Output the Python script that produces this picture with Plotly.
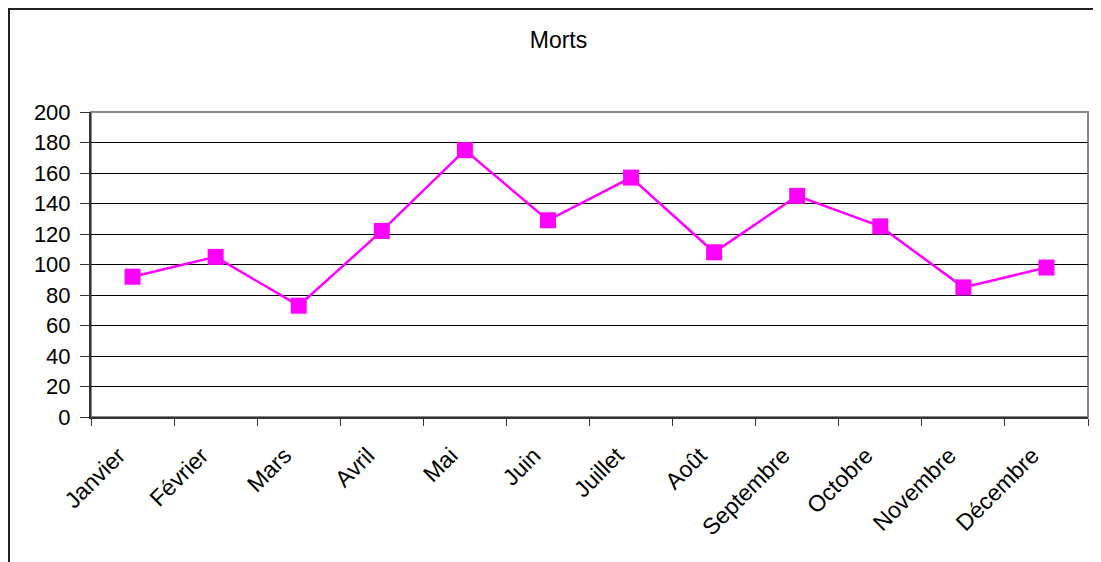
import plotly.graph_objects as go

mois = ['Janvier', 'Février', 'Mars', 'Avril', 'Mai', 'Juin', 'Juillet',
        'Août', 'Septembre', 'Octobre', 'Novembre', 'Décembre']
morts = [92, 105, 73, 122, 175, 129, 157, 108, 145, 125, 85, 98]
y_ticks = [0, 20, 40, 60, 80, 100, 120, 140, 160, 180, 200]

fig = go.Figure(data=[go.Scatter(x=mois, y=morts, mode='lines+markers',
                                 line=dict(color='#ff00ff', width=2.5),
                                 marker=dict(symbol='square', size=16, color='#ff00ff'))
                      ])

# la page ajoute une marge de 8 px en haut et à gauche
fig.update_layout(
    width=1101, height=562,
    margin=dict(l=83, r=21, t=104, b=153),
    paper_bgcolor='white', plot_bgcolor='white',
    font=dict(family='Liberation Sans, Arial', size=21, color='black'),
    title=dict(text='Morts', x=0.5, xanchor='center', y=1 - 32 / 562, yanchor='middle',
               font=dict(size=23)),
    showlegend=False,
)
fig.update_xaxes(type='category', range=[-0.5, 11.5], tickangle=-45,
                 tickfont=dict(size=23), ticklabelstandoff=14, ticklabelshift=-14,
                 ticks='outside', tickson='boundaries', ticklen=7, tickcolor='#333',
                 showline=True, linecolor='#333', linewidth=2, showgrid=False)
fig.update_yaxes(range=[0, 200], tickvals=y_ticks, ticks='outside', ticklen=9,
                 ticklabelstandoff=5, tickfont=dict(size=22),
                 tickcolor='#333', showline=True, linecolor='#333', linewidth=2,
                 gridcolor='black', gridwidth=1, zeroline=False)

# bord gris de la zone de tracé
fig.add_shape(type='rect', xref='x domain', yref='y domain', x0=0, x1=1, y0=0, y1=1,
              line=dict(color='#888', width=2), layer='below')
# cadre du graphique (coupé à droite et en bas)
fig.add_shape(type='rect', xref='paper', yref='paper', xsizemode='pixel', ysizemode='pixel',
              xanchor=0, yanchor=1, x0=-82, x1=1100, y0=103, y1=-600,
              line=dict(color='#222', width=2))

fig.write_html("out.html")
